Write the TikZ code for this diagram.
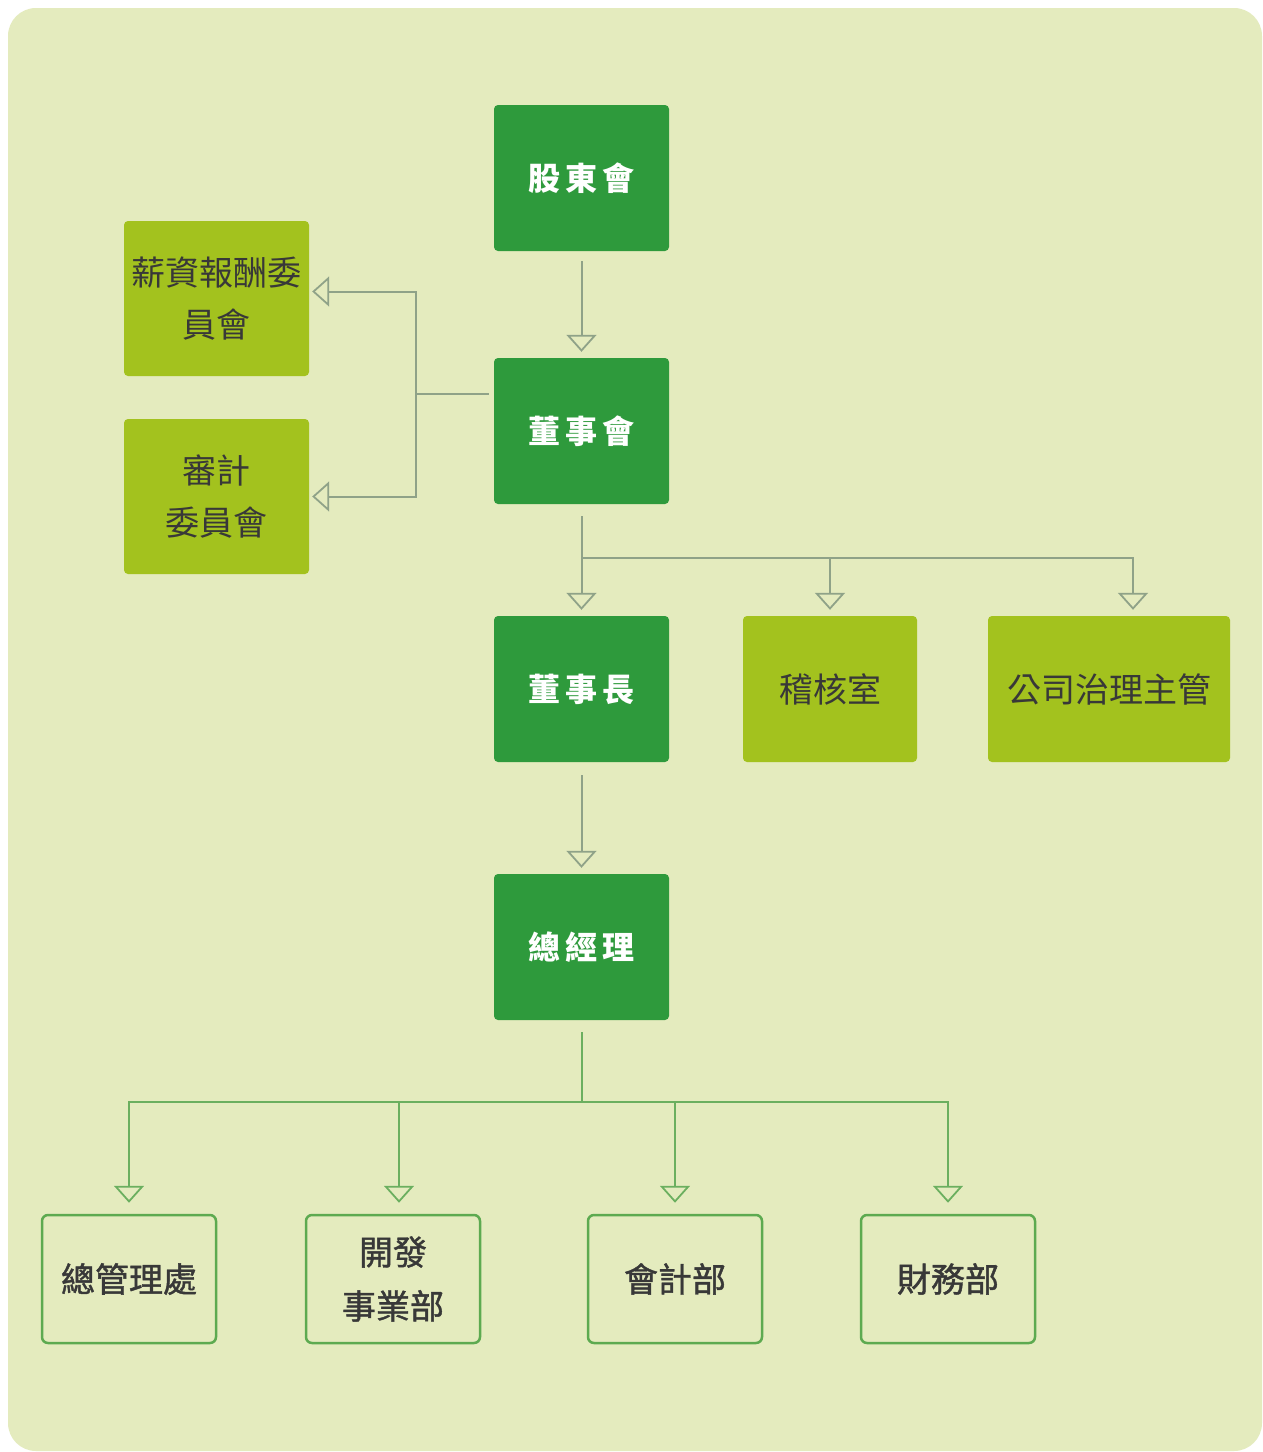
\documentclass[tikz,border=0pt]{standalone}
\usepackage{fontspec}
\newfontfamily\cjk{Noto Sans CJK TC}
\newfontfamily\cjkm[FakeBold=1.3]{Noto Sans CJK TC}
\usetikzlibrary{arrows.meta,calc}
\definecolor{bgc}{HTML}{E4EBBE}
\definecolor{dkg}{HTML}{2E9A3C}
\definecolor{lime}{HTML}{A3C21E}
\definecolor{outg}{HTML}{5DAA50}
\definecolor{lineg}{HTML}{8FA288}
\definecolor{lineb}{HTML}{6BAF5F}
\definecolor{txt}{HTML}{383838}
\tikzset{
  darkbox/.style={fill=dkg, rounded corners=4pt, minimum width=175pt, minimum height=146pt, inner sep=0pt,
    text=white, font=\cjk\bfseries\fontsize{32}{40}\selectfont},
  limebox/.style={fill=lime, rounded corners=4pt, minimum width=185pt, minimum height=155pt, inner sep=0pt,
    text=txt, align=center, font=\cjk\fontsize{34}{52}\selectfont},
  outbox/.style={draw=outg, line width=2.5pt, fill=bgc, rounded corners=6pt, minimum width=174pt, minimum height=128pt,
    inner sep=0pt, text=txt, align=center, font=\cjkm\fontsize{34}{54}\selectfont},
  tip/.style={-{Triangle[length=17pt,width=30pt,fill=bgc,line width=1.8pt]}},
  connu/.style={draw=lineg, line width=2pt},
  connb/.style={draw=lineb, line width=2pt},
}
\begin{document}
\begin{tikzpicture}[x=1pt,y=-1pt]
\useasboundingbox (0,0) rectangle (1262,1452);
\fill[white] (0,0) rectangle (1262,1452);
\fill[bgc, rounded corners=28pt] (8,8) rectangle (1262,1451);

% top column
\node[darkbox] (gd) at (581.5,178) {股\hspace{5pt}東\hspace{5pt}會};
\node[darkbox] (bd) at (581.5,431) {董\hspace{5pt}事\hspace{5pt}會};
\node[darkbox] (cz) at (581.5,689) {董\hspace{5pt}事\hspace{5pt}長};
\node[darkbox] (gm) at (581.5,947) {總\hspace{5pt}經\hspace{5pt}理};

% committees
\node[limebox] (sal) at (216.5,298.5) {薪資報酬委\\員會};
\node[limebox] (aud) at (216.5,496.5) {審計\\委員會};

% staff units
\node[limebox, minimum width=174pt, minimum height=146pt] (ia) at (830,689) {稽核室};
\node[limebox, minimum width=242pt, minimum height=146pt] (cg) at (1109,689) {公司治理主管};

% departments
\node[outbox] (ga) at (129,1279) {總管理處};
\node[outbox] (dev) at (393,1279) {開發\\事業部};
\node[outbox] (acc) at (675,1279) {會計部};
\node[outbox] (fin) at (948,1279) {財務部};

% connectors upper
\draw[connu, tip, shorten <=10pt, shorten >=6pt] (gd.south) -- (bd.north);

\coordinate (jl) at (416,394);
\draw[connu] ([yshift=37pt,xshift=-5pt]bd.west) -- (jl);
\draw[connu, tip, shorten >=3pt] (jl) |- ([yshift=7pt]sal.east);
\draw[connu, tip, shorten >=3pt] (jl) |- (aud.east);

\draw[connu, tip, shorten <=12pt, shorten >=6pt] (bd.south) -- (cz.north);
\coordinate (br1) at (581.5,558);
\draw[connu, tip, shorten >=6pt] (br1) -| (ia.north);
\draw[connu, tip, shorten >=6pt] (br1) -| ([xshift=24pt]cg.north);

\draw[connu, tip, shorten <=13pt, shorten >=6pt] (cz.south) -- (gm.north);

% connectors lower
\coordinate (br2) at (581.5,1102);
\draw[connb, shorten <=12pt] (gm.south) -- (br2);
\draw[connb, tip, shorten >=11pt] (br2) -| (ga.north);
\draw[connb, tip, shorten >=11pt] (br2) -| ([xshift=6pt]dev.north);
\draw[connb, tip, shorten >=11pt] (br2) -| (acc.north);
\draw[connb, tip, shorten >=11pt] (br2) -| (fin.north);
\end{tikzpicture}
\end{document}
